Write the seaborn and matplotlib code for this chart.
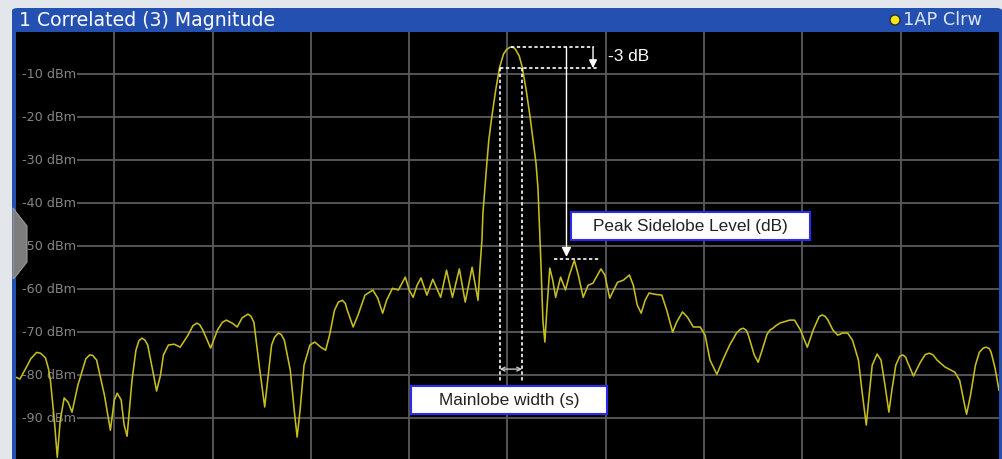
import numpy as np
import pandas as pd
import matplotlib
matplotlib.use("Agg")
import matplotlib.pyplot as plt
import seaborn as sns
from matplotlib.patches import Rectangle, FancyBboxPatch, Polygon, Ellipse

# Trace (time in divisions, level in dBm)
time = [0.00, 0.04, 0.10, 0.15, 0.21, 0.25, 0.30, 0.33, 0.35, 0.39,
        0.42, 0.45, 0.49, 0.53, 0.57, 0.63, 0.68, 0.71, 0.75, 0.78,
        0.82, 0.90, 0.96, 1.00, 1.03, 1.07, 1.10, 1.13, 1.18, 1.22,
        1.25, 1.28, 1.31, 1.34, 1.40, 1.43, 1.47, 1.50, 1.55, 1.61,
        1.67, 1.75, 1.80, 1.84, 1.87, 1.90, 1.98, 2.05, 2.10, 2.14,
        2.20, 2.25, 2.30, 2.36, 2.39, 2.42, 2.48, 2.53, 2.56, 2.60,
        2.63, 2.67, 2.70, 2.73, 2.79, 2.83, 2.86, 2.89, 2.93, 2.99,
        3.04, 3.10, 3.15, 3.19, 3.24, 3.28, 3.32, 3.35, 3.37, 3.43,
        3.48, 3.55, 3.63, 3.68, 3.73, 3.77, 3.83, 3.89, 3.96, 4.00,
        4.04, 4.08, 4.12, 4.18, 4.24, 4.28, 4.32, 4.38, 4.44, 4.51,
        4.57, 4.64, 4.70, 4.72, 4.74, 4.75, 4.77, 4.79, 4.81, 4.84,
        4.88, 4.92, 4.96, 4.99, 5.02, 5.04, 5.06, 5.08, 5.12, 5.15,
        5.19, 5.23, 5.26, 5.29, 5.31, 5.32, 5.34, 5.36, 5.38, 5.40,
        5.43, 5.46, 5.49, 5.54, 5.59, 5.63, 5.68, 5.72, 5.77, 5.82,
        5.87, 5.95, 5.99, 6.04, 6.08, 6.12, 6.18, 6.24, 6.28, 6.32,
        6.36, 6.40, 6.44, 6.50, 6.57, 6.62, 6.68, 6.72, 6.78, 6.83,
        6.89, 6.96, 7.01, 7.06, 7.13, 7.19, 7.26, 7.33, 7.37, 7.40,
        7.43, 7.45, 7.51, 7.55, 7.59, 7.64, 7.67, 7.70, 7.73, 7.77,
        7.87, 7.92, 7.98, 8.05, 8.11, 8.17, 8.20, 8.23, 8.26, 8.31,
        8.36, 8.41, 8.46, 8.51, 8.57, 8.61, 8.65, 8.68, 8.71, 8.76,
        8.80, 8.84, 8.88, 8.91, 8.95, 8.99, 9.02, 9.05, 9.07, 9.13,
        9.20, 9.25, 9.29, 9.33, 9.37, 9.45, 9.55, 9.60, 9.64, 9.67,
        9.71, 9.76, 9.80, 9.84, 9.87, 9.90, 9.92, 9.96, 10.00]
level = [-80.5, -80.9, -78.4, -76.2, -74.7, -74.9, -76.0, -78.5, -81.2, -90.5,
         -99.1, -90.5, -85.3, -86.3, -88.6, -82.3, -78.5, -76.2, -75.3, -75.4,
         -76.5, -84.7, -92.8, -85.8, -84.2, -85.8, -91.6, -94.2, -81.2, -74.2,
         -72.0, -71.4, -71.8, -73.0, -80.0, -83.7, -80.0, -75.3, -73.0, -72.8,
         -73.5, -70.7, -68.5, -67.9, -68.3, -69.5, -73.7, -69.5, -67.7, -67.2,
         -67.9, -68.8, -66.7, -65.8, -66.3, -67.7, -78.8, -87.4, -81.2, -73.0,
         -71.2, -70.2, -70.6, -71.9, -78.8, -88.1, -94.4, -88.1, -77.7, -73.0,
         -72.3, -73.5, -74.2, -70.7, -64.9, -63.0, -62.6, -63.3, -64.9, -68.8,
         -66.0, -61.4, -60.2, -62.1, -65.6, -62.6, -59.8, -60.2, -57.2, -60.2,
         -61.9, -59.1, -57.4, -61.4, -57.7, -59.8, -61.9, -55.6, -61.9, -55.3,
         -63.0, -54.9, -62.6, -54.9, -48.6, -42.3, -36.5, -30.7, -25.3, -20.0,
         -13.7, -8.4, -5.3, -4.3, -3.8, -3.7, -3.8, -4.2, -5.8, -8.4,
         -13.7, -20.0, -25.3, -30.7, -36.5, -42.3, -54.0, -67.2, -72.3, -64.9,
         -55.1, -57.9, -61.9, -57.2, -60.2, -56.7, -53.3, -56.7, -61.9, -59.1,
         -58.6, -55.3, -56.7, -62.1, -60.2, -58.4, -57.9, -56.7, -59.1, -63.7,
         -65.6, -62.6, -60.9, -61.2, -61.4, -64.9, -70.0, -67.7, -65.3, -66.5,
         -68.8, -68.8, -70.7, -76.5, -79.8, -76.5, -73.0, -70.2, -69.3, -69.1,
         -69.6, -70.7, -75.3, -77.0, -74.2, -70.5, -69.5, -69.1, -68.5, -67.9,
         -67.2, -67.2, -69.5, -73.5, -69.5, -66.4, -66.0, -66.3, -67.2, -69.5,
         -70.7, -70.2, -70.2, -71.9, -76.5, -84.4, -91.6, -84.4, -77.7, -75.1,
         -76.5, -82.3, -88.6, -83.5, -77.7, -75.6, -75.3, -75.8, -77.0, -80.2,
         -77.0, -75.2, -74.9, -75.3, -76.5, -78.1, -79.3, -81.2, -85.8, -89.1,
         -84.7, -77.7, -74.7, -73.7, -73.5, -73.8, -74.7, -78.4, -83.5]

y_ticks = [-10, -20, -30, -40, -50, -60, -70, -80, -90]
y_labels = ["-10 dBm", "-20 dBm", "-30 dBm", "-40 dBm", "-50 dBm",
            "-60 dBm", "-70 dBm", "-80 dBm", "-90 dBm"]

# Annotation levels
half_power_level = -8.6
mainlobe_edges = [4.92, 5.15]
sidelobe_level = -53.0
sidelobe_span = [5.47, 5.93]

W, H = 1003, 459
TRACE = "#c6be1e"
GRID = "#5a5a5a"
BLUE = "#2450b2"

fig = plt.figure(figsize=(W / 100, H / 100), dpi=100)
fig.patch.set_facecolor("#e3e6ea")

# blue window frame + title bar
fig.add_artist(FancyBboxPatch((12 / W, -0.05), (1002 - 12) / W, (0.05 + 1 - 8 / H),
                              boxstyle="round,pad=0,rounding_size=0.006",
                              transform=fig.transFigure, fc=BLUE, ec="none", zorder=-1))
fig.text(19 / W, 1 - 20 / H, "1 Correlated (3) Magnitude", color="white",
         fontsize=13.6, ha="left", va="center", family="DejaVu Sans")
fig.add_artist(Ellipse((895 / W, 1 - 20 / H), 10 / W, 10 / H, transform=fig.transFigure,
                       fc="#f4e81c", ec="#303030", lw=1, zorder=3))
fig.text(903 / W, 1 - 20 / H, "1AP Clrw", color="#dfe6f3", fontsize=12.8,
         ha="left", va="center", family="DejaVu Sans")

ax = fig.add_axes([16 / W, 0, (999 - 16) / W, (H - 32) / H])
ax.set_facecolor("black")
ax.set_xlim(0, 10)
ax.set_ylim(-99.5, -0.2)
for s in ax.spines.values():
    s.set_visible(False)
ax.set_xticks([])
ax.set_yticks([])

# grid
ax.vlines(np.arange(1, 10), -99.5, 0, color=GRID, lw=1.3, zorder=1)
ax.hlines(y_ticks, 0.62, 10, color=GRID, lw=1.3, zorder=1)
for v, lab in zip(y_ticks, y_labels):
    ax.text(0.61, v, lab, color="#858585", fontsize=9.2, ha="right", va="center",
            family="DejaVu Sans", zorder=2)

df = pd.DataFrame({"time": time, "level": level})
sns.lineplot(data=df, x="time", y="level", ax=ax, color=TRACE, lw=1.15,
             sort=False, estimator=None, legend=False, zorder=3)
for ln in ax.lines:
    ln.set_solid_joinstyle("round")
ax.set_xlabel("")
ax.set_ylabel("")

# annotations
peak_i = int(np.argmax(level))
peak_t, peak_v = time[peak_i], level[peak_i]
dash = dict(color="white", lw=1.2, ls=(0, (2, 1.5)), zorder=4)
ax.plot([peak_t, 5.88], [peak_v, peak_v], **dash)
ax.plot([mainlobe_edges[0], 5.91], [half_power_level, half_power_level], **dash)
for e in mainlobe_edges:
    ax.plot([e, e], [half_power_level, -81.9], **dash)
ax.annotate("", xy=(5.87, half_power_level), xytext=(5.87, peak_v),
            arrowprops=dict(arrowstyle="-|>", color="white", lw=1, mutation_scale=12,
                            shrinkA=0, shrinkB=0), zorder=5)
ax.text(6.02, -6.0, "-3 dB", color="white", fontsize=12.4, ha="left", va="center",
        family="Liberation Sans")

ax.annotate("", xy=(5.60, sidelobe_level + 0.5), xytext=(5.60, peak_v),
            arrowprops=dict(arrowstyle="-|>", color="white", lw=1, mutation_scale=14,
                            shrinkA=0, shrinkB=0), zorder=5)
ax.plot(sidelobe_span, [sidelobe_level, sidelobe_level], **dash)

ax.annotate("", xy=(mainlobe_edges[0], -78.6), xytext=(mainlobe_edges[1], -78.6),
            arrowprops=dict(arrowstyle="<->", color="#c8c8c8", lw=1, mutation_scale=7,
                            shrinkA=0, shrinkB=0), zorder=5)

ax.add_patch(Rectangle((5.65, -48.6), 8.08 - 5.65, 6.5, fc="white", ec="#2a2af0",
                       lw=1.5, zorder=6))
ax.text((5.65 + 8.08) / 2, -45.35, "Peak Sidelobe Level (dB)", color="#222222",
        fontsize=12.4, ha="center", va="center", family="Liberation Sans", zorder=7)
ax.add_patch(Rectangle((4.02, -89.1), 6.01 - 4.02, 6.5, fc="white", ec="#2a2af0",
                       lw=1.5, zorder=6))
ax.text((4.02 + 6.01) / 2, -85.85, "Mainlobe width (s)", color="#222222",
        fontsize=12.4, ha="center", va="center", family="Liberation Sans", zorder=7)

# left side tab
tab = [(13, 208), (16, 212), (27, 226), (27, 262), (16, 276), (13, 279)]
fig.add_artist(Polygon([(x / W, 1 - y / H) for x, y in tab], closed=True,
                       transform=fig.transFigure, fc="#7d7d7d", ec="#9a9a9a", lw=0.8,
                       zorder=2))

fig.savefig("out.png", dpi=100, facecolor=fig.get_facecolor())
